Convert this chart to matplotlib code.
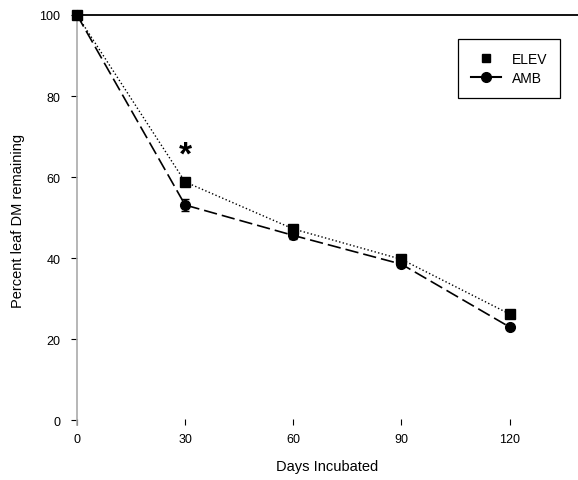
import matplotlib
matplotlib.use('Agg')
import matplotlib.pyplot as plt
from matplotlib.lines import Line2D

plt.rcParams['font.family'] = ['Liberation Sans', 'DejaVu Sans']

days = [0, 30, 60, 90, 120]
elev = [100, 58.8, 47.2, 39.7, 26.2]
amb = [100, 53.1, 45.6, 38.5, 23.0]
amb_err = [0, 1.6, 0.8, 0.8, 0.6]
elev_err = [0, 0.8, 0.8, 0.8, 0.5]

fig = plt.figure(figsize=(5.78, 4.81), dpi=100)
ax = fig.add_axes([77/578, 55/481, 1 - 77/578, 410/481])

ax.errorbar(days, amb, yerr=amb_err, color='black', linestyle=(0, (8, 3)), linewidth=1.2,
            marker='o', markersize=7, capsize=3, elinewidth=1, clip_on=False, zorder=3)
ax.errorbar(days, elev, yerr=elev_err, color='black', linestyle=':', linewidth=1,
            marker='s', markersize=6.5, capsize=3, elinewidth=1, clip_on=False, zorder=4)
ax.text(30, 65.5, '*', fontsize=24, fontweight='bold', ha='center', va='center')

ax.set_xlim(0, 139)
ax.set_ylim(-1.2, 100)
ax.set_xticks(days)
ax.set_yticks([0, 20, 40, 60, 80, 100])
ax.tick_params(axis='x', direction='in', length=4, width=0.8, labelsize=9, pad=6)
ax.tick_params(axis='y', direction='out', length=4, width=0.8, labelsize=9, pad=8)
for s in ['right', 'bottom']:
    ax.spines[s].set_visible(False)
ax.spines['left'].set_color('#aaaaaa')
ax.spines['left'].set_linewidth(1.2)
ax.spines['top'].set_linewidth(1.3)

ax.set_xlabel('Days Incubated', fontsize=10.5, labelpad=10)
ax.set_ylabel('Percent leaf DM remaining', fontsize=10.5, labelpad=10)

handles = [Line2D([], [], color='black', linestyle='none', marker='s', markersize=6),
           Line2D([], [], color='black', linestyle='-', marker='o', markersize=7)]
leg = ax.legend(handles, ['ELEV', 'AMB'], loc='upper left',
                bbox_to_anchor=(458/578, (481 - 40)/481), bbox_transform=fig.transFigure,
                borderaxespad=0, fancybox=False, framealpha=1, fontsize=10,
                edgecolor='black', borderpad=0.9, handlelength=2.2, labelspacing=0.4)
leg.get_frame().set_linewidth(0.9)

plt.savefig('out.png', dpi=100)
